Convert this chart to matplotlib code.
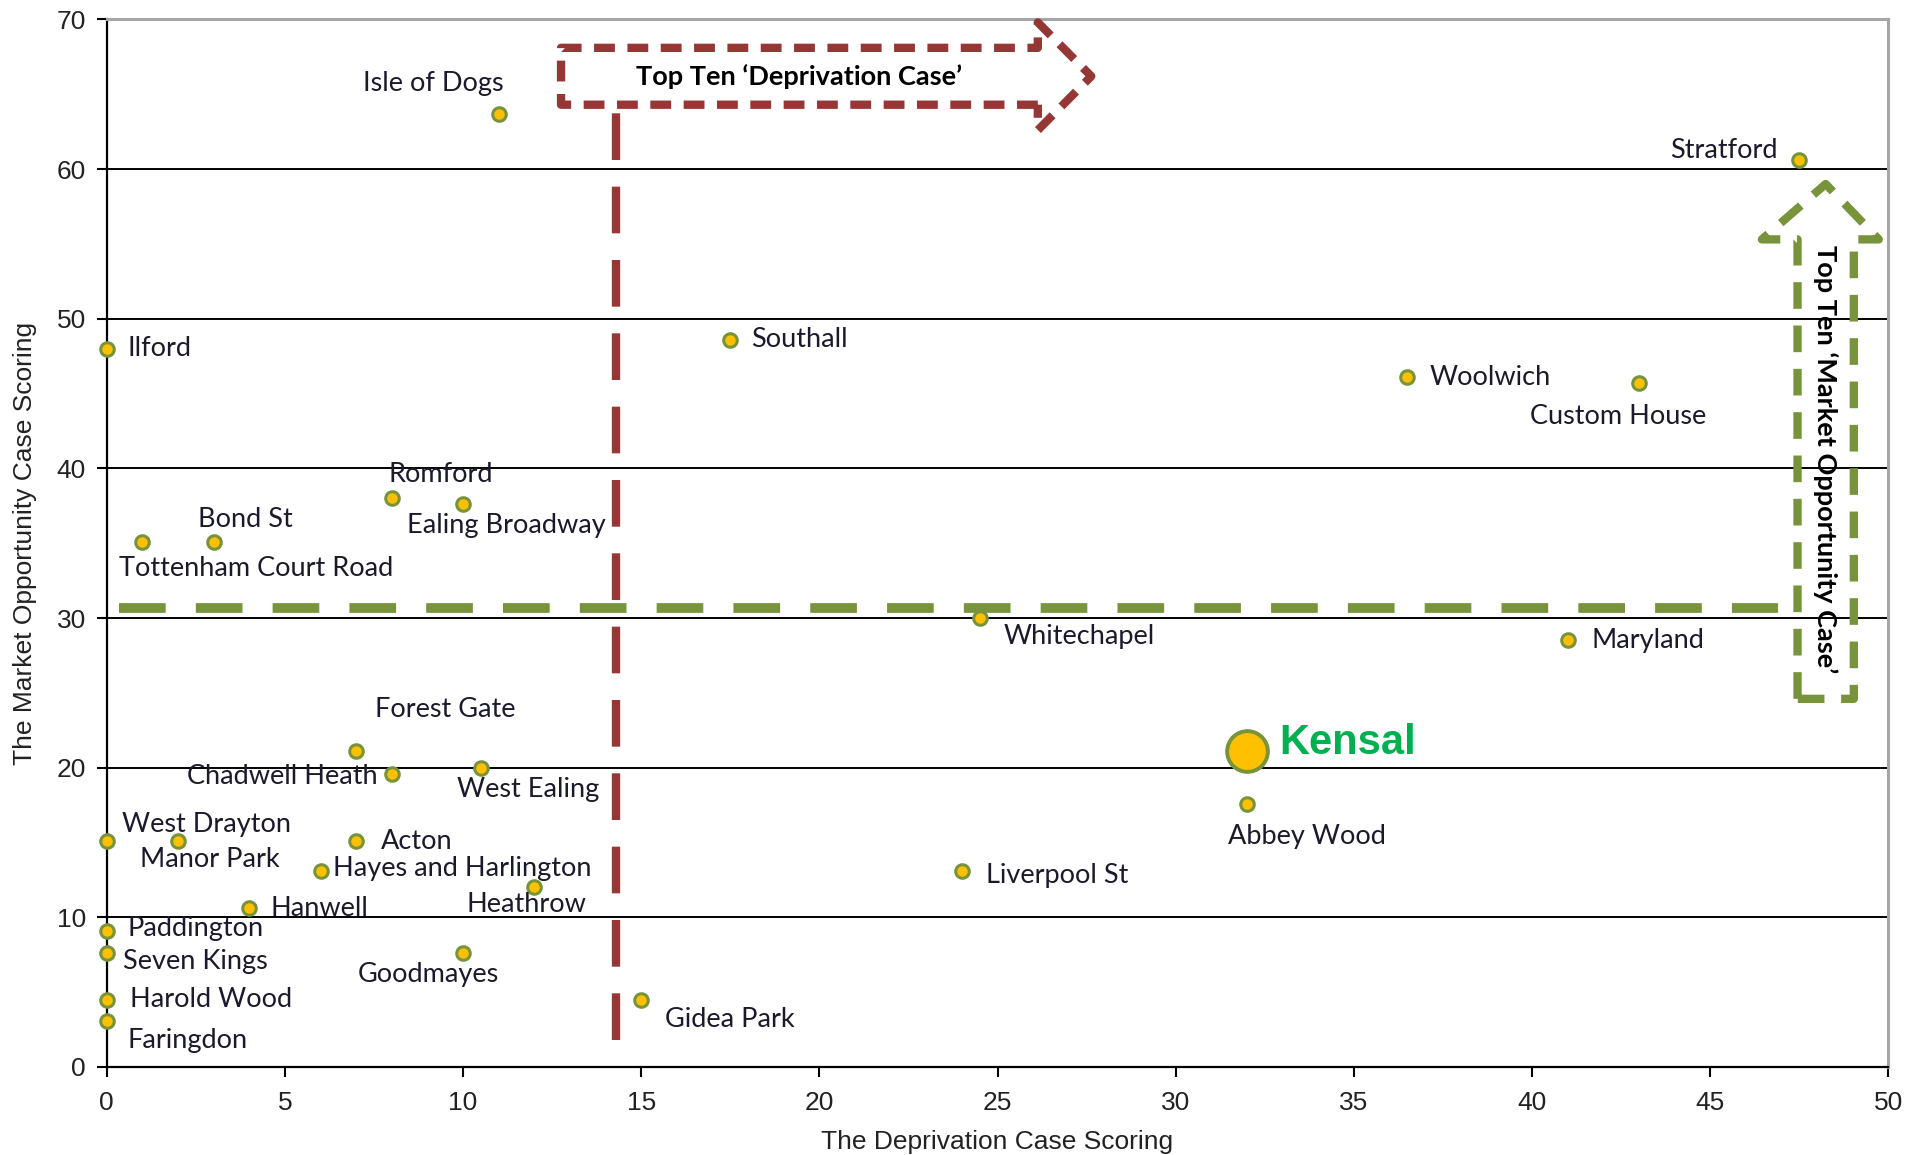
import matplotlib
matplotlib.use("Agg")
import matplotlib.pyplot as plt

# Station scores: deprivation case (x) vs market opportunity case (y)
stations = [
    "Isle of Dogs", "Stratford", "Ilford", "Southall", "Woolwich", "Custom House",
    "Romford", "Ealing Broadway", "Bond St", "Tottenham Court Road", "Whitechapel",
    "Maryland", "Forest Gate", "Chadwell Heath", "West Ealing", "Abbey Wood",
    "West Drayton", "Manor Park", "Acton", "Hayes and Harlington", "Liverpool St",
    "Heathrow", "Hanwell", "Paddington", "Seven Kings", "Goodmayes", "Harold Wood",
    "Gidea Park", "Faringdon",
]
deprivation = [
    11.0, 47.5, 0.0, 17.5, 36.5, 43.0,
    8.0, 10.0, 3.0, 1.0, 24.5,
    41.0, 7.0, 8.0, 10.5, 32.0,
    0.0, 2.0, 7.0, 6.0, 24.0,
    12.0, 4.0, 0.0, 0.0, 10.0, 0.0,
    15.0, 0.0,
]
market = [
    63.7, 60.6, 48.0, 48.6, 46.1, 45.7,
    38.0, 37.6, 35.1, 35.1, 30.0,
    28.5, 21.1, 19.6, 20.0, 17.6,
    15.1, 15.1, 15.1, 13.1, 13.1,
    12.0, 10.6, 9.1, 7.6, 7.6, 4.5,
    4.5, 3.1,
]

# Highlighted station
focus_name = "Kensal"
focus_x = 32.0
focus_y = 21.1

# Top-ten cut-offs
deprivation_cut = 14.3
market_cut = 30.7

x_ticks = list(range(0, 51, 5))
y_ticks = list(range(0, 71, 10))

# Label placement: (horizontal alignment, dx, dy in points)
label_layout = {
    "Isle of Dogs": ("center", -47, 22),
    "Stratford": ("right", -16, 7),
    "Ilford": ("left", 15, 0),
    "Southall": ("left", 15, 0),
    "Woolwich": ("left", 16, 0),
    "Custom House": ("center", -15, -24),
    "Romford": ("center", 35, 17),
    "Ealing Broadway": ("center", 31, -15),
    "Bond St": ("center", 23, 16),
    "Tottenham Court Road": ("center", 82, -19),
    "Whitechapel": ("left", 17, -13),
    "Maryland": ("left", 17, 0),
    "Forest Gate": ("center", 64, 30),
    "Chadwell Heath": ("right", -10, -2),
    "West Ealing": ("center", 34, -16),
    "Abbey Wood": ("center", 43, -24),
    "West Drayton": ("center", 72, 12),
    "Manor Park": ("center", 23, -13),
    "Acton": ("left", 18, 0),
    "Hayes and Harlington": ("left", 9, 2),
    "Liverpool St": ("left", 17, -3),
    "Heathrow": ("center", -6, -12),
    "Hanwell": ("left", 15, 0),
    "Paddington": ("left", 15, 2),
    "Seven Kings": ("left", 12, -6),
    "Goodmayes": ("center", -25, -15),
    "Harold Wood": ("left", 17, 0),
    "Gidea Park": ("left", 17, -14),
    "Faringdon": ("left", 15, -14),
}

RED = "#953735"
GREEN = "#77933C"
GOLD = "#FFC000"
TEXT = "#1a1a2a"
LABEL_SIZE = 19.5
BANNER_SIZE = 19.5

fig = plt.figure(figsize=(19.23, 11.55), dpi=100)
ax = fig.add_axes([0.0555, 0.0762, 0.9265, 0.907])

ax.set_xlim(0, 50)
ax.set_ylim(0, 70)
ax.set_xticks(x_ticks)
ax.set_yticks(y_ticks)

tick_font = dict(family="Liberation Sans", size=19, color="#222222")
for lab in ax.get_xticklabels() + ax.get_yticklabels():
    lab.set_fontfamily("Liberation Sans")
    lab.set_fontsize(19)
    lab.set_color("#222222")
ax.tick_params(axis="both", direction="out", length=7, width=1.5, color="black")
ax.tick_params(axis="x", pad=10)
ax.tick_params(axis="y", pad=8)

for side in ("left", "bottom"):
    ax.spines[side].set_color("black")
    ax.spines[side].set_linewidth(1.6)
for side in ("top", "right"):
    ax.spines[side].set_color("#a6a6a6")
    ax.spines[side].set_linewidth(2.2)

for yv in y_ticks[1:-1]:
    ax.axhline(yv, color="black", lw=1.4, zorder=1)

ax.set_xlabel("The Deprivation Case Scoring", fontdict=tick_font, labelpad=11)
ax.set_ylabel("The Market Opportunity Case Scoring", fontdict=tick_font, labelpad=14)

# Deprivation top-ten marker: cut-off line and arrow outline
arrow_bottom, arrow_top = 64.3, 68.1
ax.plot([deprivation_cut, deprivation_cut], [1.8, arrow_bottom], color=RED, lw=6,
        linestyle=(0, (5.6, 3.2)), solid_capstyle="butt", zorder=3)
red_outline_x = [26.13, 12.75, 12.75, 26.13, 26.13, 27.63, 26.13, 26.13]
red_outline_y = [arrow_bottom, arrow_bottom, arrow_top, arrow_top, 69.8, 66.2, 62.6, arrow_bottom]
ax.plot(red_outline_x, red_outline_y, color=RED, lw=6, linestyle=(0, (2.5, 1.5)),
        clip_on=False, zorder=3)
ax.text((12.75 + 26.13) / 2, (arrow_bottom + arrow_top) / 2,
        "Top Ten \u2018Deprivation Case\u2019", ha="center", va="center",
        family="Lato", weight="bold", size=BANNER_SIZE, color="black", zorder=4)

# Market-opportunity top-ten marker: cut-off line and arrow outline
ax.plot([0.35, 46.9], [market_cut, market_cut], color=GREEN, lw=7,
        linestyle=(0, (4.8, 3.1)), zorder=3)
g_left, g_right, g_bottom, g_base = 47.45, 49.03, 24.6, 55.3
green_outline_x = [g_left, g_left, 46.45, (g_left + g_right) / 2, 49.73, g_right, g_right, g_left]
green_outline_y = [g_bottom, g_base, g_base, 59.0, g_base, g_base, g_bottom, g_bottom]
ax.plot(green_outline_x, green_outline_y, color=GREEN, lw=6, linestyle=(0, (3.2, 2.0)),
        clip_on=False, zorder=3)
ax.text((g_left + g_right) / 2, 40.6, "Top Ten \u2018Market Opportunity Case\u2019",
        rotation=-90, ha="center", va="center", family="Lato", weight="bold",
        size=BANNER_SIZE, color="black", zorder=4)

# Stations
ax.scatter(deprivation, market, s=95, facecolor=GOLD, edgecolor=GREEN,
           linewidth=2.2, zorder=5, clip_on=False)
ax.scatter([focus_x], [focus_y], s=860, facecolor=GOLD, edgecolor=GREEN,
           linewidth=2.8, zorder=5)

for name, xv, yv in zip(stations, deprivation, market):
    ha, dx, dy = label_layout[name]
    ax.annotate(name, (xv, yv), xytext=(dx, dy), textcoords="offset points",
                ha=ha, va="center", family="Lato", size=LABEL_SIZE, color=TEXT, zorder=6)

ax.annotate(focus_name, (focus_x, focus_y), xytext=(23, 6), textcoords="offset points",
            ha="left", va="center", family="Liberation Sans", weight="bold",
            size=30, color="#00B050", zorder=6)

fig.savefig("out.png", dpi=100)
